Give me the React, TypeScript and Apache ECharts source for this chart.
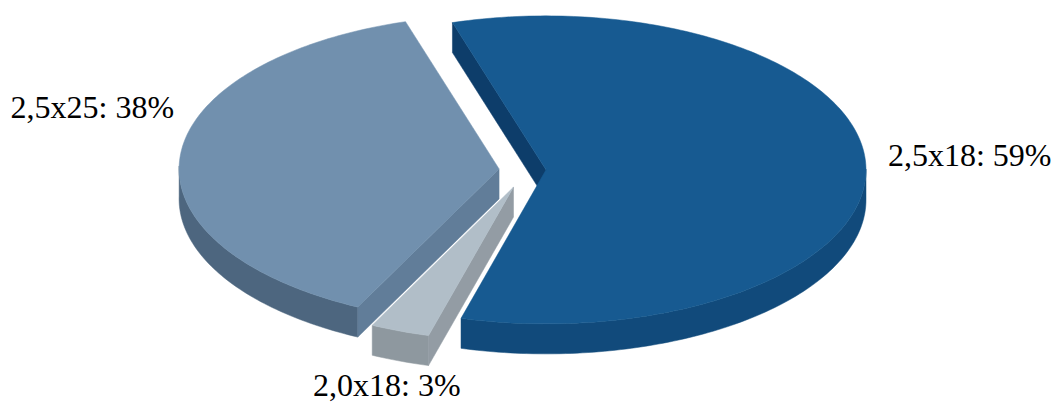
import React, { useEffect, useRef } from "react";
import * as echarts from "echarts";

// Slices in clockwise order, starting at the top-left cut
const categories = ["2,5x18", "2,0x18", "2,5x25"];
const shares = [59, 3, 38];

// Layout / style (not data)
const START_ANGLE = 107; // math degrees; slices go clockwise
const CENTER = [527, 170];
const RX = 320;
const RY = 154;
const THICK = 30;
const EXPLODE = [19, 38, 28];
const TOP_COLORS = ["#175a91", "#b1bec8", "#7190ae"];
const WALL_COLORS = ["#114a7b", "#8e989f", "#4d667f"];
const CUT_COLORS = ["#0d3d6a", "#939ca4", "#617d99"];
const LABEL_OFFSET: [number, number, string][] = [
  [22, -13, "left"],
  [-13, 54, "center"],
  [-6, -50, "right"],
];
const Z_ORDER = [1, 3, 2];

export default function App() {
  const ref = useRef<HTMLDivElement>(null);
  useEffect(() => {
    if (!ref.current) return;
    const chart = echarts.init(ref.current, null, { renderer: "svg" });
    const total = shares.reduce((a, b) => a + b, 0);
    const rad = (d: number) => (d * Math.PI) / 180;

    const renderItem = (params: any, api: any) => {
      const i = params.dataIndex;
      const v = api.value(0) as number;
      const before = shares.slice(0, i).reduce((a, b) => a + b, 0);
      const s = START_ANGLE - (before / total) * 360;
      const e = s - (v / total) * 360;
      const midDeg = (s + e) / 2;
      const cx = CENTER[0] + EXPLODE[i] * Math.cos(rad(midDeg));
      const cy = CENTER[1] - EXPLODE[i] * Math.sin(rad(midDeg)) * (RY / RX);
      const P = (deg: number, dy = 0) => [
        cx + RX * Math.cos(rad(deg)),
        cy - RY * Math.sin(rad(deg)) + dy,
      ];
      const n = Math.max(2, Math.ceil(s - e));
      const angs: number[] = [];
      for (let k = 0; k <= n; k++) angs.push(s - ((s - e) * k) / n);

      const children: any[] = [];
      const zb = Z_ORDER[i] * 10;

      // outer wall (front-facing part)
      let run: number[] = [];
      const flush = () => {
        if (run.length > 1) {
          const pts = run
            .map((a) => P(a))
            .concat(
              run
                .slice()
                .reverse()
                .map((a) => P(a, THICK))
            );
          children.push({
            type: "polygon",
            z2: zb,
            shape: { points: pts },
            style: { fill: WALL_COLORS[i], stroke: WALL_COLORS[i], lineWidth: 0.5 },
          });
        }
        run = [];
      };
      for (const a of angs) {
        if (Math.sin(rad(a)) <= 0.02) run.push(a);
        else flush();
      }
      flush();

      // cut faces
      const C = [cx, cy];
      const CT = [cx, cy + THICK];
      if (Math.cos(rad(s)) < 0) {
        children.push({
          type: "polygon",
          z2: zb + 1,
          shape: { points: [C, P(s), P(s, THICK), CT] },
          style: { fill: CUT_COLORS[i], stroke: CUT_COLORS[i], lineWidth: 0.5 },
        });
      }
      if (Math.cos(rad(e)) > 0) {
        children.push({
          type: "polygon",
          z2: zb + 1,
          shape: { points: [C, P(e), P(e, THICK), CT] },
          style: { fill: CUT_COLORS[i], stroke: CUT_COLORS[i], lineWidth: 0.5 },
        });
      }

      // top surface
      children.push({
        type: "polygon",
        z2: zb + 2,
        shape: { points: [C].concat(angs.map((a) => P(a))) },
        style: { fill: TOP_COLORS[i], stroke: TOP_COLORS[i], lineWidth: 0.5 },
      });

      // label
      const lp = P(midDeg);
      const off = LABEL_OFFSET[i];
      children.push({
        type: "text",
        z2: 100,
        x: lp[0] + off[0],
        y: lp[1] + off[1],
        style: {
          text: `${categories[i]}: ${v}%`,
          fill: "#000",
          font: '32px "Liberation Serif"',
          align: off[2],
          verticalAlign: "middle",
        },
      });

      return { type: "group", children };
    };

    chart.setOption({
      animation: false,
      series: [
        {
          type: "custom",
          coordinateSystem: "none",
          silent: true,
          data: shares.map((v, i) => ({ name: categories[i], value: [v, i] })),
          renderItem,
        },
      ],
    });
    return () => chart.dispose();
  }, []);
  return (
    <div
      ref={ref}
      style={{ position: "fixed", left: 0, top: 0, width: 1055, height: 403, background: "#fff" }}
    />
  );
}
